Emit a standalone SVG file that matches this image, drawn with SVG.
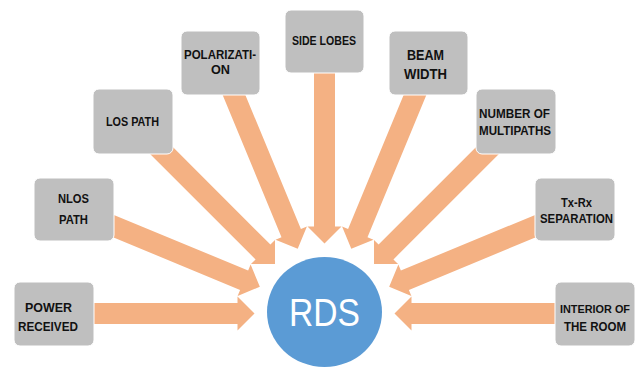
<svg xmlns="http://www.w3.org/2000/svg" xmlns:xlink="http://www.w3.org/1999/xlink" width="636" height="367" viewBox="0 0 636 367">
  <style>
    .box { fill: #bfbfbf; stroke: #ffffff; stroke-width: 1; }
    .lbl { font-family: "Liberation Sans", Arial, sans-serif; font-weight: bold; font-size: 12.5px; fill: #111111; text-anchor: middle; }
    .arrow { fill: #f4b183; }
    .hub { fill: #5b9bd5; }
    .hubtxt { font-family: "Liberation Sans", Arial, sans-serif; font-size: 39px; fill: #ffffff; text-anchor: middle; }
  </style>
  <defs>
    <!-- block arrow pointing at the hub; tip 70px left of the hub centre -->
    <polygon id="fanArrow" class="arrow" points="-250,-10.5 -87,-10.5 -87,-17 -70,0 -87,17 -87,10.5 -250,10.5"/>
  </defs>
  <rect width="636" height="367" fill="#ffffff"/>

  <g id="connectors">
    <use xlink:href="#fanArrow" transform="translate(324.5 313.5) rotate(0)"/>
    <use xlink:href="#fanArrow" transform="translate(324.5 313.5) rotate(22.5)"/>
    <use xlink:href="#fanArrow" transform="translate(324.5 313.5) rotate(45)"/>
    <use xlink:href="#fanArrow" transform="translate(324.5 313.5) rotate(67.5)"/>
    <use xlink:href="#fanArrow" transform="translate(324.5 313.5) rotate(90)"/>
    <use xlink:href="#fanArrow" transform="translate(324.5 313.5) rotate(112.5)"/>
    <use xlink:href="#fanArrow" transform="translate(324.5 313.5) rotate(135)"/>
    <use xlink:href="#fanArrow" transform="translate(324.5 313.5) rotate(157.5)"/>
    <use xlink:href="#fanArrow" transform="translate(324.5 313.5) rotate(180)"/>
  </g>

  <g id="rds">
    <ellipse class="hub" cx="324.5" cy="312" rx="57.5" ry="55"/>
    <text class="hubtxt" x="324.5" y="326" textLength="71" lengthAdjust="spacingAndGlyphs">RDS</text>
  </g>

  <g id="power-received">
    <rect class="box" x="14" y="282" width="80" height="64" rx="6"/>
    <text class="lbl" x="48.5" y="312" textLength="47" lengthAdjust="spacingAndGlyphs">POWER</text>
    <text class="lbl" x="48" y="331" textLength="60" lengthAdjust="spacingAndGlyphs">RECEIVED</text>
  </g>

  <g id="nlos-path">
    <rect class="box" x="34" y="178" width="80" height="63" rx="6"/>
    <text class="lbl" x="73.5" y="203" textLength="31" lengthAdjust="spacingAndGlyphs">NLOS</text>
    <text class="lbl" x="73.5" y="224" textLength="29" lengthAdjust="spacingAndGlyphs">PATH</text>
  </g>

  <g id="los-path">
    <rect class="box" x="93" y="89" width="80" height="65" rx="6"/>
    <text class="lbl" x="132.5" y="125.5" style="font-size:13.5px" textLength="53" lengthAdjust="spacingAndGlyphs">LOS PATH</text>
  </g>

  <g id="polarization">
    <rect class="box" x="181" y="31" width="79" height="64" rx="6"/>
    <text class="lbl" x="220" y="59" textLength="72" lengthAdjust="spacingAndGlyphs">POLARIZATI-</text>
    <text class="lbl" x="220.5" y="74" textLength="19" lengthAdjust="spacingAndGlyphs">ON</text>
  </g>

  <g id="side-lobes">
    <rect class="box" x="285" y="10" width="79" height="63" rx="6"/>
    <text class="lbl" x="324" y="45" textLength="64" lengthAdjust="spacingAndGlyphs">SIDE LOBES</text>
  </g>

  <g id="beam-width">
    <rect class="box" x="389" y="31" width="79" height="64" rx="6"/>
    <text class="lbl" x="425.5" y="60" style="font-size:14px" textLength="37" lengthAdjust="spacingAndGlyphs">BEAM</text>
    <text class="lbl" x="425.5" y="79" style="font-size:14px" textLength="43" lengthAdjust="spacingAndGlyphs">WIDTH</text>
  </g>

  <g id="number-of-multipaths">
    <rect class="box" x="476" y="89" width="80" height="65" rx="6"/>
    <text class="lbl" x="514.5" y="118" textLength="71" lengthAdjust="spacingAndGlyphs">NUMBER OF</text>
    <text class="lbl" x="515" y="135" textLength="72" lengthAdjust="spacingAndGlyphs">MULTIPATHS</text>
  </g>

  <g id="tx-rx-separation">
    <rect class="box" x="535" y="178" width="80" height="63" rx="6"/>
    <text class="lbl" x="576.5" y="207" textLength="31" lengthAdjust="spacingAndGlyphs">Tx-Rx</text>
    <text class="lbl" x="576.5" y="223" textLength="73" lengthAdjust="spacingAndGlyphs">SEPARATION</text>
  </g>

  <g id="interior-of-the-room">
    <rect class="box" x="555" y="282" width="80" height="64" rx="6"/>
    <text class="lbl" x="595" y="313" style="font-size:11.5px" textLength="70" lengthAdjust="spacingAndGlyphs">INTERIOR OF</text>
    <text class="lbl" x="595" y="331" textLength="62" lengthAdjust="spacingAndGlyphs">THE ROOM</text>
  </g>
</svg>
